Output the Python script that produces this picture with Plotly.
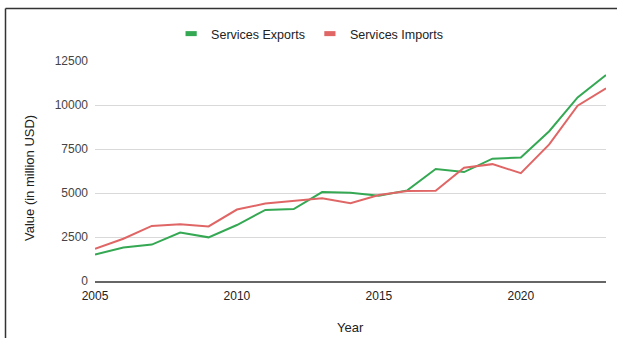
import plotly.graph_objects as go

years = list(range(2005, 2024))
exports = [1500, 1900, 2070, 2750, 2480, 3180, 4040, 4090, 5050, 5020,
           4850, 5150, 6360, 6190, 6950, 7020, 8510, 10430, 11700]
imports = [1830, 2400, 3130, 3230, 3100, 4060, 4400, 4530, 4700, 4420,
           4890, 5110, 5130, 6430, 6640, 6130, 7760, 9960, 10950]
series_names = ["Services Exports", "Services Imports"]
series_colors = ["#34a853", "#e06666"]
y_ticks = [0, 2500, 5000, 7500, 10000, 12500]
y_tick_labels = ["0", "2500", "5000", "7500", "10000", "12500"]
x_ticks = [2005, 2010, 2015, 2020]

FONT = "Arial, Liberation Sans, sans-serif"
W, H = 617, 338
ML, MR, MT, MB = 95, 11, 61, 57
PW, PH = W - ML - MR, H - MT - MB


def px_x(px):
    return (px - ML) / PW


def px_y(py):
    return (H - MB - py) / PH


fig = go.Figure()
for name, vals, col in zip(series_names, [exports, imports], series_colors):
    fig.add_trace(go.Scatter(x=years, y=vals, mode="lines", name=name,
                             line=dict(color=col, width=2), showlegend=False,
                             hoverinfo="x+y"))
    # legend-only entry with a short thick swatch
    fig.add_trace(go.Scatter(x=[None], y=[None], mode="markers", name=name,
                             marker=dict(symbol="line-ew", size=8,
                                         line=dict(color=col, width=5)),
                             showlegend=True))

fig.update_layout(
    width=W, height=H,
    margin=dict(l=ML, r=MR, t=MT, b=MB),
    paper_bgcolor="white", plot_bgcolor="white",
    font=dict(family=FONT, size=12, color="#444"),
    showlegend=True,
    legend=dict(orientation="h", x=0.42, xanchor="center", y=px_y(34),
                yanchor="middle", font=dict(size=12.5, color="#222"),
                itemwidth=30, bgcolor="rgba(0,0,0,0)"),
    xaxis=dict(range=[2005, 2023], tickvals=x_ticks, showgrid=False,
               zeroline=False, showline=True, linecolor="#666", linewidth=2,
               ticks="", ticklabelstandoff=3,
               tickfont=dict(size=12, color="#222")),
    yaxis=dict(range=[0, 12500], tickvals=y_ticks, ticktext=y_tick_labels,
               showgrid=True, gridcolor="#d9d9d9", gridwidth=1,
               zeroline=False, ticks="", ticklabelstandoff=6,
               tickfont=dict(size=12, color="#444")),
    annotations=[
        dict(text="Value (in million USD)", textangle=-90, xref="paper",
             yref="paper", x=px_x(29), y=px_y(178), showarrow=False,
             xanchor="center", yanchor="middle",
             font=dict(size=13, color="#222")),
        dict(text="Year", xref="paper", yref="paper", x=px_x(350),
             y=px_y(327), showarrow=False, xanchor="center",
             yanchor="middle", font=dict(size=13, color="#222")),
    ],
    shapes=[
        dict(type="line", xref="paper", yref="paper", x0=px_x(5.5),
             x1=px_x(W + 2), y0=px_y(8.5), y1=px_y(8.5),
             line=dict(color="#333", width=1.5)),
        dict(type="line", xref="paper", yref="paper", x0=px_x(5.5),
             x1=px_x(5.5), y0=px_y(8.5), y1=px_y(H + 2),
             line=dict(color="#333", width=1.5)),
    ],
)

fig.write_html("out.html",
               config={"displayModeBar": False},
               post_script="document.body.style.margin='0';"
                           "document.body.style.overflow='hidden';")
